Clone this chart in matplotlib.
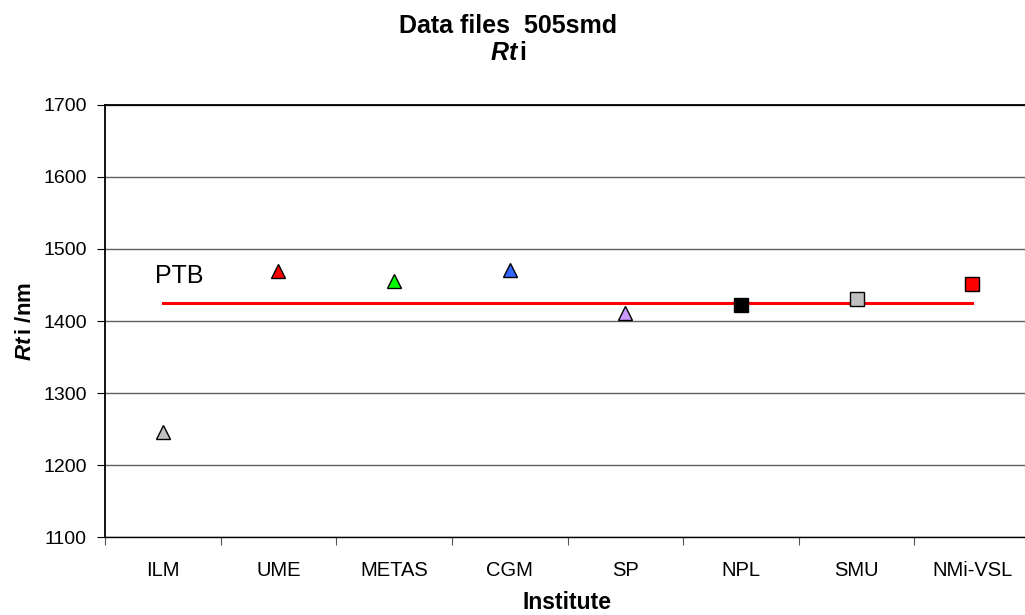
import numpy as np
import matplotlib
matplotlib.use('Agg')
import matplotlib.pyplot as plt
from matplotlib.ticker import FixedLocator, NullFormatter

plt.rcParams['font.family'] = ['Liberation Sans', 'DejaVu Sans']
plt.rcParams['mathtext.fontset'] = 'custom'
plt.rcParams['mathtext.rm'] = 'Liberation Sans'
plt.rcParams['mathtext.it'] = 'Liberation Sans:italic'
plt.rcParams['mathtext.bf'] = 'Liberation Sans:bold'
plt.rcParams['mathtext.bfit'] = 'Liberation Sans:bold:italic'

#############################################################################################

institutes = ['ILM', 'UME', 'METAS', 'CGM', 'SP', 'NPL', 'SMU', 'NMi-VSL']
rt_values = [1246, 1469, 1455, 1471, 1411, 1422, 1430, 1452]
markers = ['^', '^', '^', '^', '^', 's', 's', 's']
face_colors = ['#c0c0c0', '#ff0000', '#00ff00', '#3366ff', '#cc99ff', '#000000', '#c0c0c0', '#ff0000']
ptb_value = 1425

y_ticks = [1100, 1200, 1300, 1400, 1500, 1600, 1700]

#############################################################################################

fig = plt.figure(figsize=(10.25, 6.15), dpi=100)
ax = fig.add_axes([105 / 1025, 1 - 537 / 615, 925 / 1025, 432 / 615])

x = np.arange(len(institutes))

# PTB reference line across all institutes
ax.plot([x[0], x[-1]], [ptb_value, ptb_value], color='#ff0000', lw=2.2, zorder=2)
ax.text(x[0] - 0.07, ptb_value + 21, 'PTB', fontsize=18, ha='left', va='bottom')

for xi, val, m, fc in zip(x, rt_values, markers, face_colors):
    size = 10 if m == '^' else 10.5
    ax.plot(xi, val, marker=m, markersize=size, markerfacecolor=fc,
            markeredgecolor='black', markeredgewidth=1.0, ls='none', zorder=3)

ax.set_xlim(-0.5, len(institutes) - 0.5)
ax.set_ylim(1100, 1700)
ax.set_yticks(y_ticks)
ax.yaxis.grid(True, color='#606060', lw=1.0)
ax.set_axisbelow(True)

ax.set_xticks(x)
ax.set_xticklabels(institutes, fontsize=14.5)
ax.xaxis.set_minor_locator(FixedLocator(np.arange(-0.5, len(institutes), 1.0)))
ax.xaxis.set_minor_formatter(NullFormatter())
ax.tick_params(axis='x', which='major', length=0, pad=17)
ax.tick_params(axis='x', which='minor', length=6, width=0.8, color='#555555')
ax.tick_params(axis='y', labelsize=14, length=6, width=0.8, pad=7)

for s in ax.spines.values():
    s.set_linewidth(1.3)
ax.spines['bottom'].set_linewidth(1.0)

ax.set_xlabel('Institute', fontsize=16.5, fontweight='bold', labelpad=8)
ax.set_ylabel(r'$\bfit{Rt}\,\bf{i\ /nm}$', fontsize=16, labelpad=5)

fig.text(508 / 1025, 1 - 33 / 615, 'Data files  505smd', fontsize=18, fontweight='bold',
         ha='center', va='baseline')
fig.text(508 / 1025, 1 - 60 / 615, r'$\bfit{Rt}\,\bf{i}$', fontsize=18,
         ha='center', va='baseline')

fig.savefig('out.png', dpi=100)
